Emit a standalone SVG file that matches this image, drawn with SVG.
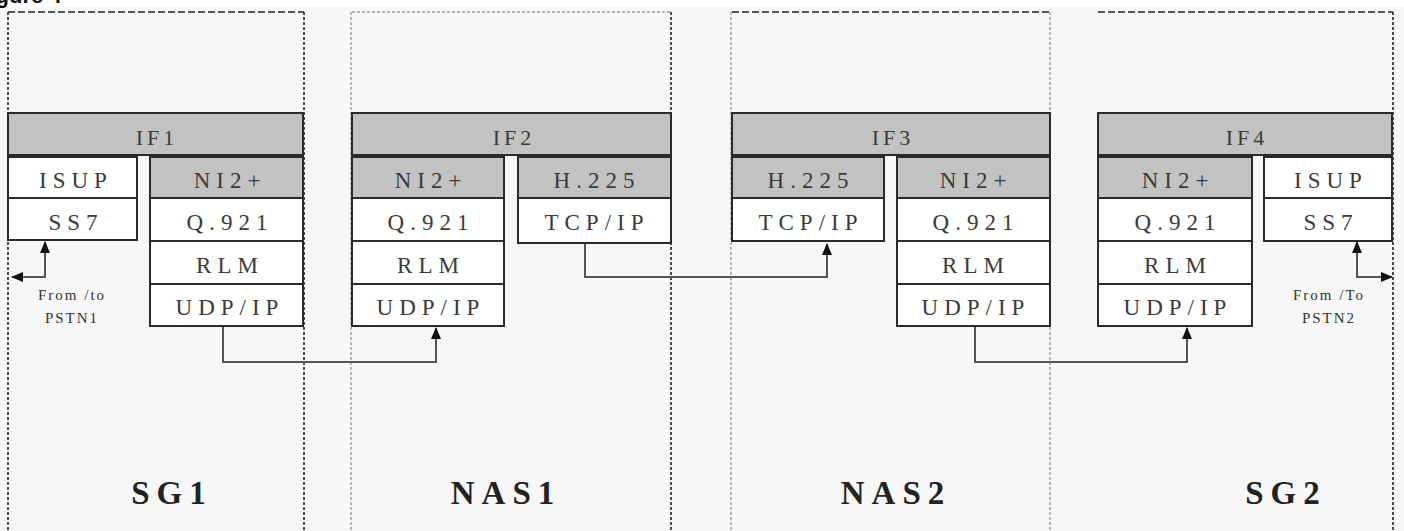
<svg xmlns="http://www.w3.org/2000/svg" width="1404" height="531" viewBox="0 0 1404 531">
<defs>
<marker id="arr" viewBox="0 0 12 10" refX="11" refY="5" markerWidth="12" markerHeight="10" markerUnits="userSpaceOnUse" orient="auto-start-reverse">
<path d="M0,0 L12,5 L0,10 z" fill="#111"/>
</marker>
<style>
.bg{fill:#f7f7f7}
.dk{stroke:#222;stroke-width:1.6;fill:none;stroke-dasharray:3,2}
.dkh{stroke:#222;stroke-width:1.6;fill:none;stroke-dasharray:7,3}
.lt{stroke:#999;stroke-width:1.4;fill:none;stroke-dasharray:3,2}
.g{fill:#c2c2c2;stroke:#2a2a2a;stroke-width:2}
.w{fill:#ffffff;stroke:#2a2a2a;stroke-width:2}
.t{font-family:"Liberation Serif","Times New Roman",serif;font-size:23px;fill:#3a3a3a;text-anchor:middle;letter-spacing:6px}
.ti{font-family:"Liberation Serif","Times New Roman",serif;font-size:22px;fill:#3a3a3a;text-anchor:middle;letter-spacing:4px}
.s{font-family:"Liberation Serif","Times New Roman",serif;font-size:15px;fill:#333;text-anchor:middle;letter-spacing:2px}
.b{font-family:"Liberation Serif","Times New Roman",serif;font-size:33px;font-weight:bold;fill:#222;text-anchor:middle;letter-spacing:7px}
.c{stroke:#555;stroke-width:2;fill:none}
</style>
</defs>
<rect x="0" y="0" width="1404" height="531" class="bg"/>
<rect x="0" y="0" width="1404" height="7" fill="#ffffff"/>
<text x="-24" y="3" font-family="Liberation Sans, Arial, sans-serif" font-size="22" font-weight="bold" fill="#111">Figure 4</text>

<g id="frames">
<path class="dkh" d="M8,12 H304"/>
<path class="dk" d="M8,12 V531"/>
<path class="dk" d="M304,12 V531"/>
<path class="lt" d="M352,12 H671"/>
<path class="lt" d="M351,12 V531"/>
<path class="dk" d="M671,12 V531"/>
<path class="dkh" d="M732,12 H1050"/>
<path class="lt" d="M731,12 V531"/>
<path class="lt" d="M1050,12 V531"/>
<path class="dkh" d="M1098,12 H1393"/>
<path class="dk" d="M1393,12 V531"/>
</g>

<g id="SG1">
<rect class="g" x="8" y="113" width="295" height="42"/>
<text class="ti" x="157" y="145">IF1</text>
<rect class="w" x="8" y="157" width="129" height="41"/>
<text class="t" x="76" y="188">ISUP</text>
<rect class="w" x="8" y="198" width="129" height="42"/>
<text class="t" x="76" y="230">SS7</text>
<rect class="g" x="150" y="157" width="153" height="41"/>
<text class="t" x="230" y="188">NI2+</text>
<rect class="w" x="150" y="198" width="153" height="43"/>
<text class="t" x="230" y="230">Q.921</text>
<rect class="w" x="150" y="241" width="153" height="43"/>
<text class="t" x="230" y="273">RLM</text>
<rect class="w" x="150" y="284" width="153" height="42"/>
<text class="t" x="230" y="315">UDP/IP</text>
<text class="s" x="72" y="300">From /to</text>
<text class="s" x="72" y="323">PSTN1</text>
<text class="b" x="172" y="504">SG1</text>
</g>

<g id="NAS1">
<rect class="g" x="352" y="113" width="319" height="42"/>
<text class="ti" x="514" y="145">IF2</text>
<rect class="g" x="352" y="157" width="152" height="41"/>
<text class="t" x="431" y="188">NI2+</text>
<rect class="w" x="352" y="198" width="152" height="43"/>
<text class="t" x="431" y="230">Q.921</text>
<rect class="w" x="352" y="241" width="152" height="43"/>
<text class="t" x="431" y="273">RLM</text>
<rect class="w" x="352" y="284" width="152" height="42"/>
<text class="t" x="431" y="315">UDP/IP</text>
<rect class="g" x="518" y="157" width="153" height="41"/>
<text class="t" x="597" y="188">H.225</text>
<rect class="w" x="518" y="198" width="153" height="45"/>
<text class="t" x="597" y="230">TCP/IP</text>
<text class="b" x="506" y="504">NAS1</text>
</g>

<g id="NAS2">
<rect class="g" x="732" y="113" width="318" height="42"/>
<text class="ti" x="893" y="145">IF3</text>
<rect class="g" x="732" y="157" width="152" height="41"/>
<text class="t" x="811" y="188">H.225</text>
<rect class="w" x="732" y="198" width="152" height="43"/>
<text class="t" x="811" y="230">TCP/IP</text>
<rect class="g" x="897" y="157" width="153" height="41"/>
<text class="t" x="976" y="188">NI2+</text>
<rect class="w" x="897" y="198" width="153" height="43"/>
<text class="t" x="976" y="230">Q.921</text>
<rect class="w" x="897" y="241" width="153" height="43"/>
<text class="t" x="976" y="273">RLM</text>
<rect class="w" x="897" y="284" width="153" height="42"/>
<text class="t" x="976" y="315">UDP/IP</text>
<text class="b" x="896" y="504">NAS2</text>
</g>

<g id="SG2">
<rect class="g" x="1098" y="113" width="294" height="42"/>
<text class="ti" x="1247" y="145">IF4</text>
<rect class="g" x="1098" y="157" width="154" height="41"/>
<text class="t" x="1178" y="188">NI2+</text>
<rect class="w" x="1098" y="198" width="154" height="43"/>
<text class="t" x="1178" y="230">Q.921</text>
<rect class="w" x="1098" y="241" width="154" height="43"/>
<text class="t" x="1178" y="273">RLM</text>
<rect class="w" x="1098" y="284" width="154" height="42"/>
<text class="t" x="1178" y="315">UDP/IP</text>
<rect class="w" x="1264" y="157" width="128" height="41"/>
<text class="t" x="1331" y="188">ISUP</text>
<rect class="w" x="1264" y="198" width="128" height="43"/>
<text class="t" x="1331" y="230">SS7</text>
<text class="s" x="1329" y="300">From /To</text>
<text class="s" x="1329" y="323">PSTN2</text>
<text class="b" x="1286" y="504">SG2</text>
</g>

<g id="connectors">
<path class="c" d="M223,327 V362 H436 V328" marker-end="url(#arr)"/>
<path class="c" d="M585,244 V277 H827 V244" marker-end="url(#arr)"/>
<path class="c" d="M975,327 V362 H1187 V328" marker-end="url(#arr)"/>
<path class="c" d="M12,277 H45 V242" marker-start="url(#arr)" marker-end="url(#arr)"/>
<path class="c" d="M1357,242 V277 H1392" marker-start="url(#arr)" marker-end="url(#arr)"/>
</g>
</svg>
